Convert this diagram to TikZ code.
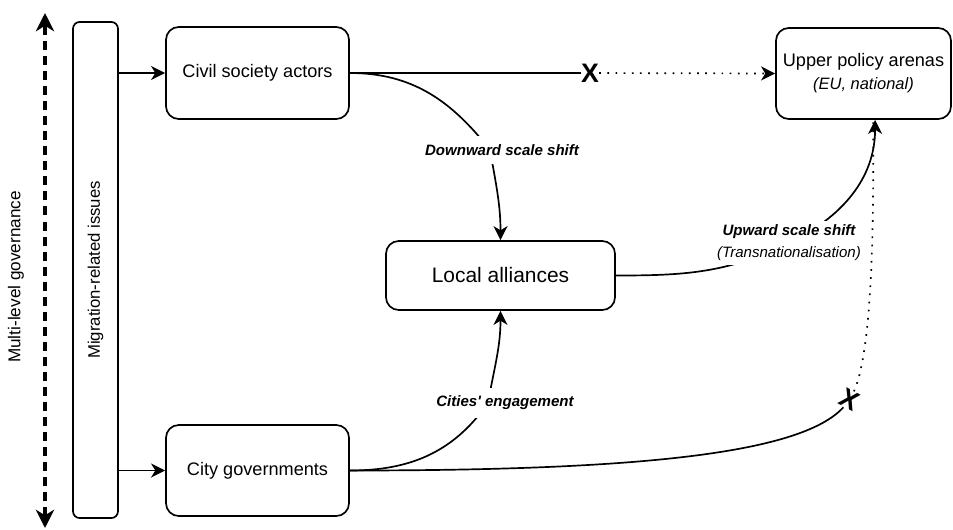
\documentclass[tikz,border=0pt]{standalone}
\usepackage{fontspec}
\setmainfont{Liberation Sans}
\usepackage{tikz}
\usetikzlibrary{arrows.meta, positioning, backgrounds}

\begin{document}
\begin{tikzpicture}[x=0.025cm, y=0.025cm,
    box/.style={draw, line width=1.2pt, rounded corners=0.32cm, align=center,
        font=\fontsize{12.9pt}{16.5pt}\selectfont},
    lbl/.style={fill=white, inner xsep=1pt, inner ysep=0.2cm, align=center,
        font=\fontsize{10.7pt}{15.6pt}\selectfont\bfseries\itshape},
    edgeline/.style={line width=1.2pt},
    link/.style={line width=1.2pt, -{Stealth[length=10pt, width=10pt, inset=3pt]}},
    dotline/.style={line width=1.2pt, dash pattern=on 1.2pt off 4.6pt},
    xmark/.style={inner sep=0pt, font=\fontsize{19pt}{19pt}\selectfont\bfseries},
]
    \useasboundingbox (0,0) rectangle (953,-529);

    % Multi-level governance axis
    \node[rotate=90, font=\fontsize{12.2pt}{14pt}\selectfont] (mlg) at (16,-277) {Multi-level governance};
    \coordinate (mlgTop) at (45,-13);
    \coordinate (mlgBot) at (45,-528);

    % Issues bar
    \node[draw, line width=1.2pt, rounded corners=0.17cm, rotate=90,
        minimum width=12.4cm, minimum height=1.125cm,
        font=\fontsize{11.9pt}{14pt}\selectfont] (issues) at (95.5,-270) {Migration-related issues};

    % Actors and arenas
    \node[box, minimum width=4.575cm, minimum height=2.3cm] (civil) at (257.5,-73) {Civil society actors};
    \node[box, minimum width=4.575cm, minimum height=2.275cm] (city) at (257.5,-470.5) {City governments};
    \node[box, minimum width=5.725cm, minimum height=1.725cm,
        font=\fontsize{14.9pt}{17pt}\selectfont] (local) at (500.5,-275.5) {Local alliances};
    \node[box, minimum width=4.375cm, minimum height=2.275cm] (upper) at (863.5,-73.5)
        {Upper policy arenas\\{\itshape\fontsize{11.7pt}{14pt}\selectfont (EU, national)}};

    % Blocked paths
    \node[xmark] (xa) at (590,-73) {X};
    \node[xmark, rotate=-28] (xb) at (850,-400) {X};

    % Scale shift labels
    \node[lbl] (lblDown) at (502,-150) {Downward scale shift};
    \node[lbl] (lblCities) at (505,-403) {Cities\textquotesingle\ engagement};
    \node[lbl, inner ysep=3pt] (lblUp) at (789,-243) {Upward scale shift\\{\mdseries (Transnationalisation)}};

    \begin{pgfonlayer}{background}
        \draw[line width=2.4pt, dash pattern=on 6.4pt off 4.3pt,
            {Stealth[length=13pt, width=13pt, inset=4pt]}-{Stealth[length=13pt, width=13pt, inset=4pt]}]
            (mlgBot) -- (mlgTop);

        % Issues to actors
        \draw[link] (issues.south |- civil.west) -- (civil.west);
        \draw[link] (issues.south |- city.west) -- (city.west);

        % Civil society
        \draw[edgeline] (civil.east) -- (xa);
        \draw[dotline, -{Stealth[length=10pt, width=10pt, inset=3pt]}] (xa) -- (upper.west);
        \draw[edgeline] (civil.east) to[out=0, in=128] ([xshift=-0.3cm]lblDown.center);
        \draw[link] ([xshift=-0.3cm]lblDown.center) to[out=-80, in=90] (local.north);

        % City governments
        \draw[edgeline] (city.east) to[out=0, in=-125] ([xshift=-0.425cm]lblCities.center);
        \draw[link] ([xshift=-0.425cm]lblCities.center) to[out=80, in=-90] (local.south);
        \draw[edgeline] (city.east) .. controls +(280,0) and +(-50,-55) .. (xb);
        \draw[dotline] (xb) to[out=70, in=-90, looseness=0.5] ([xshift=0.24cm]upper.south);

        % Local to upper
        \draw[edgeline] (local.east) to[out=0, in=206] (lblUp.center);
        \draw[link] (lblUp.center) to[out=26, in=-90] ([xshift=0.29cm]upper.south);
    \end{pgfonlayer}
\end{tikzpicture}
\end{document}
